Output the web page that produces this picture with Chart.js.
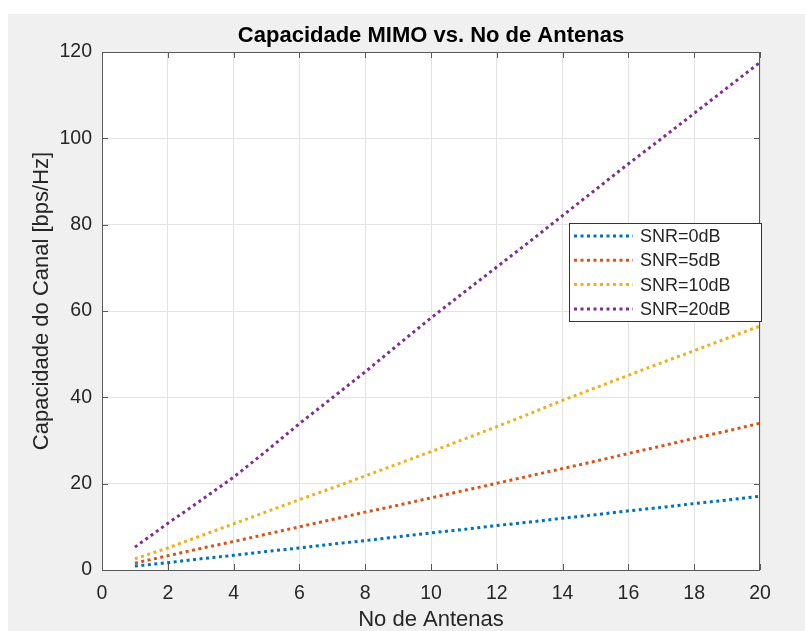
<!DOCTYPE html>
<html>
<head>
<meta charset="utf-8">
<script src="https://cdn.jsdelivr.net/npm/chart.js@4.4.0/dist/chart.umd.min.js"></script>
<style>
  html, body { margin: 0; padding: 0; background: #fff; }
  #wrap { width: 805px; height: 631px; position: relative; }
</style>
</head>
<body>
<div id="wrap"><canvas id="myChart" width="805" height="631"></canvas></div>
<script>
// ### DATA ###
const antennas = [1, 2, 3, 4, 5, 6, 7, 8, 9, 10, 11, 12, 13, 14, 15, 16, 17, 18, 19, 20];
const snrLabels = ['SNR=0dB', 'SNR=5dB', 'SNR=10dB', 'SNR=20dB'];
const snr0 = [0.9, 1.7, 2.6, 3.4, 4.3, 5.1, 6.0, 6.8, 7.7, 8.6, 9.4, 10.3, 11.1, 12.0, 12.8, 13.7, 14.5, 15.4, 16.2, 17.1];
const snr5 = [1.6, 3.3, 5.0, 6.6, 8.3, 10.0, 11.7, 13.4, 15.0, 16.7, 18.4, 20.1, 21.8, 23.5, 25.2, 27.0, 28.7, 30.5, 32.2, 34.0];
const snr10 = [2.6, 5.1, 7.9, 10.7, 13.5, 16.3, 19.0, 21.8, 24.6, 27.4, 30.3, 33.2, 36.2, 39.3, 42.2, 45.1, 48.0, 50.8, 53.7, 56.5];
const snr20 = [5.3, 10.8, 16.1, 21.5, 27.6, 33.9, 39.9, 45.9, 52.2, 58.4, 64.3, 70.2, 76.1, 82.1, 88.1, 94.1, 99.9, 105.8, 111.7, 117.6];
const xTicks = [0, 2, 4, 6, 8, 10, 12, 14, 16, 18, 20];
const yTicks = [0, 20, 40, 60, 80, 100, 120];
const yTitle = 'Capacidade do Canal [bps/Hz]';

// cores padrao do matlab
const colors = ['#0072BD', '#D95319', '#EDB120', '#7E2F8E'];
const series = [snr0, snr5, snr10, snr20];

const axisColor = '#5a5a5a';
const textColor = '#262626';
const font = "'Liberation Sans', Arial, Helvetica, sans-serif";

// fundo cinza + eixos estilo matlab + legenda dentro do grafico
const matlabStyle = {
    id: 'matlabStyle',
    beforeDraw(chart) {
        const { ctx, chartArea: a } = chart;
        ctx.save();
        ctx.fillStyle = '#ffffff';
        ctx.fillRect(0, 0, chart.width, chart.height);
        ctx.fillStyle = '#f0f0f0';
        ctx.fillRect(8, 14, chart.width - 8, chart.height - 14);
        ctx.fillStyle = '#ffffff';
        ctx.fillRect(a.left, a.top, a.right - a.left, a.bottom - a.top);
        ctx.restore();
    },
    afterDraw(chart) {
        const { ctx, chartArea: a, scales } = chart;
        ctx.save();
        ctx.strokeStyle = axisColor;
        ctx.lineWidth = 1;
        ctx.strokeRect(a.left + 0.5, a.top + 0.5, a.right - a.left - 1, a.bottom - a.top);

        // ticks para dentro
        ctx.beginPath();
        xTicks.forEach(function (v) {
            const px = Math.round(scales.x.getPixelForValue(v)) + 0.5;
            ctx.moveTo(px, a.bottom); ctx.lineTo(px, a.bottom - 6);
            ctx.moveTo(px, a.top); ctx.lineTo(px, a.top + 6);
        });
        yTicks.forEach(function (v) {
            const py = Math.round(scales.y.getPixelForValue(v)) + 0.5;
            ctx.moveTo(a.left, py); ctx.lineTo(a.left + 6, py);
            ctx.moveTo(a.right, py); ctx.lineTo(a.right - 6, py);
        });
        ctx.stroke();

        // titulo do eixo y (um pouco acima do centro, como no matlab)
        ctx.save();
        ctx.translate(42, 301);
        ctx.rotate(-Math.PI / 2);
        ctx.fillStyle = textColor;
        ctx.font = '22px ' + font;
        ctx.textAlign = 'center';
        ctx.textBaseline = 'middle';
        ctx.fillText(yTitle, 0, 0);
        ctx.restore();

        // legenda
        const box = { left: 569, top: 223, right: 761, bottom: 321 };
        ctx.fillStyle = '#ffffff';
        ctx.fillRect(box.left, box.top, box.right - box.left, box.bottom - box.top);
        ctx.strokeStyle = '#333333';
        ctx.lineWidth = 1;
        ctx.strokeRect(box.left + 0.5, box.top + 0.5, box.right - box.left, box.bottom - box.top);
        chart.data.datasets.forEach(function (ds, i) {
            const y = box.top + 13 + i * 24.3;
            ctx.beginPath();
            ctx.strokeStyle = ds.borderColor;
            ctx.lineWidth = ds.borderWidth;
            ctx.setLineDash(ds.borderDash);
            ctx.moveTo(574, y); ctx.lineTo(633, y);
            ctx.stroke();
            ctx.setLineDash([]);
            ctx.fillStyle = textColor;
            ctx.font = '18px ' + font;
            ctx.textBaseline = 'middle';
            ctx.textAlign = 'left';
            ctx.fillText(ds.label, 640, y + 1);
        });
        ctx.restore();
    }
};

const ctx = document.getElementById('myChart');

const myChart = new Chart(ctx, {
    type: 'line',
    data: {
        datasets: series.map(function (vals, i) {
            return {
                label: snrLabels[i],
                data: antennas.map(function (n, j) { return { x: n, y: vals[j] }; }),
                borderColor: colors[i],
                backgroundColor: colors[i],
                borderWidth: 3,
                borderDash: [3, 3.5],
                pointRadius: 0,
                fill: false,
                tension: 0
            };
        })
    },
    options: {
        responsive: false,
        devicePixelRatio: 1,
        animation: false,
        layout: { padding: { left: 0, top: 0, right: 45, bottom: 0 } },
        plugins: {
            legend: { display: false },
            tooltip: { enabled: false },
            title: {
                display: true,
                text: 'Capacidade MIMO vs. No de Antenas',
                fullSize: false,
                color: '#000000',
                font: { family: font, size: 22, weight: 'bold', lineHeight: 1.2 },
                padding: { top: 23, bottom: 2.6 }
            }
        },
        scales: {
            x: {
                type: 'linear',
                min: 0,
                max: 20,
                afterFit: function (s) { s.height = 61; },
                afterBuildTicks: function (s) { s.ticks = xTicks.map(function (v) { return { value: v }; }); },
                grid: { color: '#e3e3e3', drawTicks: false },
                border: { display: false },
                ticks: { color: textColor, font: { family: font, size: 19.5 }, padding: 12, maxRotation: 0 },
                title: {
                    display: true,
                    text: 'No de Antenas',
                    color: textColor,
                    font: { family: font, size: 22, lineHeight: 1 },
                    padding: { top: 0, bottom: 0 }
                }
            },
            y: {
                min: 0,
                max: 120,
                afterFit: function (s) { s.width = 102; },
                afterBuildTicks: function (s) { s.ticks = yTicks.map(function (v) { return { value: v }; }); },
                grid: { color: '#e3e3e3', drawTicks: false },
                border: { display: false },
                ticks: { color: textColor, font: { family: font, size: 19.5 }, padding: 10 },
                title: { display: false }
            }
        }
    },
    plugins: [matlabStyle]
});
</script>
</body>
</html>
